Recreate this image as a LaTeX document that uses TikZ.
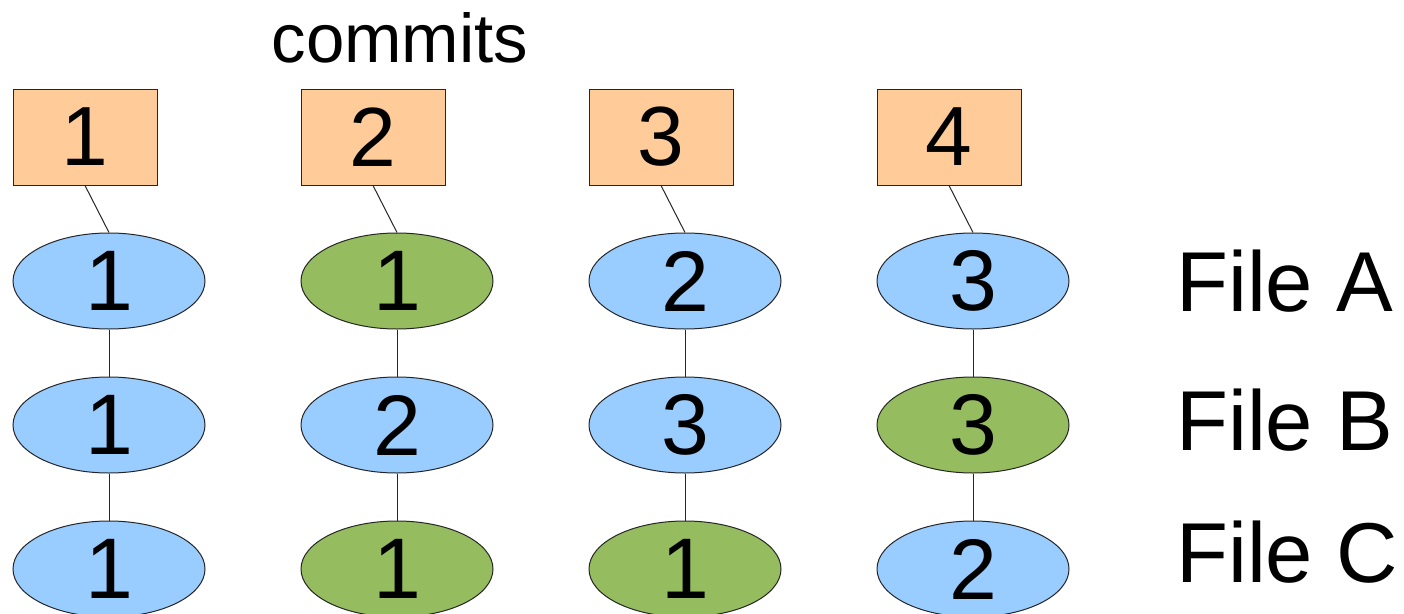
\documentclass[tikz,border=0pt]{standalone}
\usepackage{fontspec}
\setmainfont{Liberation Sans}
\usetikzlibrary{shapes.geometric}
\definecolor{boxfill}{HTML}{FFCC99}
\definecolor{bluefill}{HTML}{99CCFF}
\definecolor{greenfill}{HTML}{95BC5E}
\tikzset{
  commitbox/.style={draw=black!85, line width=1pt, fill=boxfill, rectangle, minimum width=144pt, minimum height=96pt, inner sep=0pt, font=\fontsize{84}{84}\selectfont},
  fileell/.style={draw=black!85, line width=1pt, ellipse, minimum width=192pt, minimum height=96pt, inner sep=0pt},
  blueell/.style={fileell, fill=bluefill},
  greenell/.style={fileell, fill=greenfill},
  digit/.style={font=\fontsize{86}{86}\selectfont, inner sep=0pt},
  link/.style={draw=black!85, line width=1pt},
  biglabel/.style={font=\fontsize{85}{85}\selectfont, anchor=base west, inner sep=0pt},
}
\newcommand{\fileellipse}[5]{% name, x, y, style, digit
  \node[#4] (#1) at (#2,#3) {};
  \node[digit] (#1t) at (#1.center) {#5};
}
\begin{document}
\begin{tikzpicture}[x=1pt,y=-1pt]
\clip (0,0) rectangle (1404,613);
\useasboundingbox (0,0) rectangle (1404,613);
\node[font=\fontsize{69}{69}\selectfont, anchor=base, inner sep=0pt] (commits) at (400,62) {commits};
% commit boxes
\node[commitbox] (c1) at (85,137) {1};
\node[commitbox] (c2) at (373,137) {2};
\node[commitbox] (c3) at (661,137) {3};
\node[commitbox] (c4) at (949,137) {4};
% file ellipses: row A
\fileellipse{a1}{109}{281}{blueell}{1}
\fileellipse{a2}{397}{281}{greenell}{1}
\fileellipse{a3}{685}{281}{blueell}{2}
\fileellipse{a4}{973}{281}{blueell}{3}
% row B
\fileellipse{b1}{109}{425}{blueell}{1}
\fileellipse{b2}{397}{425}{blueell}{2}
\fileellipse{b3}{685}{425}{blueell}{3}
\fileellipse{b4}{973}{425}{greenell}{3}
% row C
\fileellipse{cc1}{109}{569}{blueell}{1}
\fileellipse{cc2}{397}{569}{greenell}{1}
\fileellipse{cc3}{685}{569}{greenell}{1}
\fileellipse{cc4}{973}{569}{blueell}{2}
% links
\foreach \i in {1,2,3,4}{
  \draw[link] (c\i.south) -- (a\i.north);
  \draw[link] (a\i.south) -- (b\i.north);
  \draw[link] (b\i.south) -- (cc\i.north);
}
% labels
\node[biglabel] (fa) at (1176,311) {File A};
\node[biglabel] (fb) at (1176,450) {File B};
\node[biglabel] (fc) at (1176,582) {File C};
\end{tikzpicture}
\end{document}
